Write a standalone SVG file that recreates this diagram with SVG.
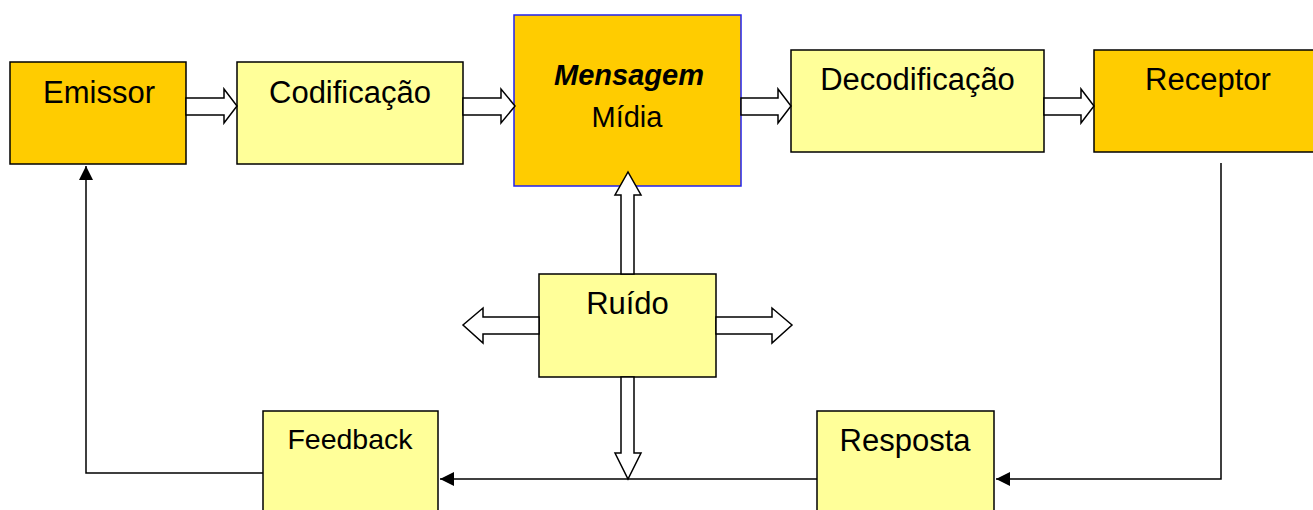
<svg xmlns="http://www.w3.org/2000/svg" width="1313" height="510" viewBox="0 0 1313 510">
<style>
.box{stroke:#000;stroke-width:1.5}
.y1{fill:#FFCC00}
.y2{fill:#FFFF99}
.t{font-family:"Liberation Sans",Arial,sans-serif;font-size:31px;fill:#000;text-anchor:middle}
.blk{fill:#fff;stroke:#000;stroke-width:1.5;stroke-linejoin:miter}
.ln{fill:none;stroke:#000;stroke-width:1.5}
</style>
<defs>
<marker id="ah" viewBox="0 0 10 10" refX="10" refY="5" markerWidth="15" markerHeight="14" markerUnits="userSpaceOnUse" orient="auto">
<path d="M0,0 L10,5 L0,10 Z" fill="#000"/>
</marker>
</defs>
<g id="emissor"><rect class="box y1" x="10" y="62" width="176" height="102"/><text class="t" x="99" y="103">Emissor</text></g>
<g id="codificacao"><rect class="box y2" x="237" y="62" width="226" height="102"/><text class="t" x="350" y="103">Codificação</text></g>
<g id="mensagem"><rect class="y1" x="514" y="15" width="227" height="171" stroke="#2222EE" stroke-width="1.5"/><text class="t" x="629" y="85" font-weight="bold" font-style="italic" style="font-size:29px">Mensagem</text><text class="t" x="627" y="127" style="font-size:29px">Mídia</text></g>
<g id="decodificacao"><rect class="box y2" x="791" y="50" width="253" height="102"/><text class="t" x="917.5" y="90">Decodificação</text></g>
<g id="receptor"><rect class="box y1" x="1094" y="50" width="230" height="102"/><text class="t" x="1208" y="90">Receptor</text></g>
<g id="ruido"><rect class="box y2" x="539" y="274" width="177" height="103"/><text class="t" x="627.5" y="314">Ruído</text></g>
<g id="feedback"><rect class="box y2" x="263" y="411" width="175" height="110"/><text class="t" x="350" y="449" style="font-size:28.5px">Feedback</text></g>
<g id="resposta"><rect class="box y2" x="817" y="411" width="177" height="110"/><text class="t" x="905" y="451">Resposta</text></g>
<g id="connectors">
<path class="ln" d="M1221,163 V479 H996" marker-end="url(#ah)"/>
<path class="ln" d="M817,479 H440" marker-end="url(#ah)"/>
<path class="ln" d="M263,473 H86 V166" marker-end="url(#ah)"/>
<path class="blk" d="M186,98 H224 V89 L237,106 L224,123 V115 H186 Z"/>
<path class="blk" d="M463,98 H501 V89 L515,106 L501,123 V115 H463 Z"/>
<path class="blk" d="M741,98 H778 V89 L791,106 L778,123 V115 H741 Z"/>
<path class="blk" d="M1044,98 H1081 V89 L1094,106 L1081,123 V115 H1044 Z"/>
<path class="blk" d="M621,274 V195 H615 L628,172 L641,195 H634 V274 Z"/>
<path class="blk" d="M621,377 V453 H615 L628,479 L641,453 H634 V377 Z"/>
<path class="blk" d="M539,317 H483 V308 L463,325 L483,343 V334 H539 Z"/>
<path class="blk" d="M716,317 H772 V308 L792,325 L772,343 V334 H716 Z"/>
</g>
</svg>
